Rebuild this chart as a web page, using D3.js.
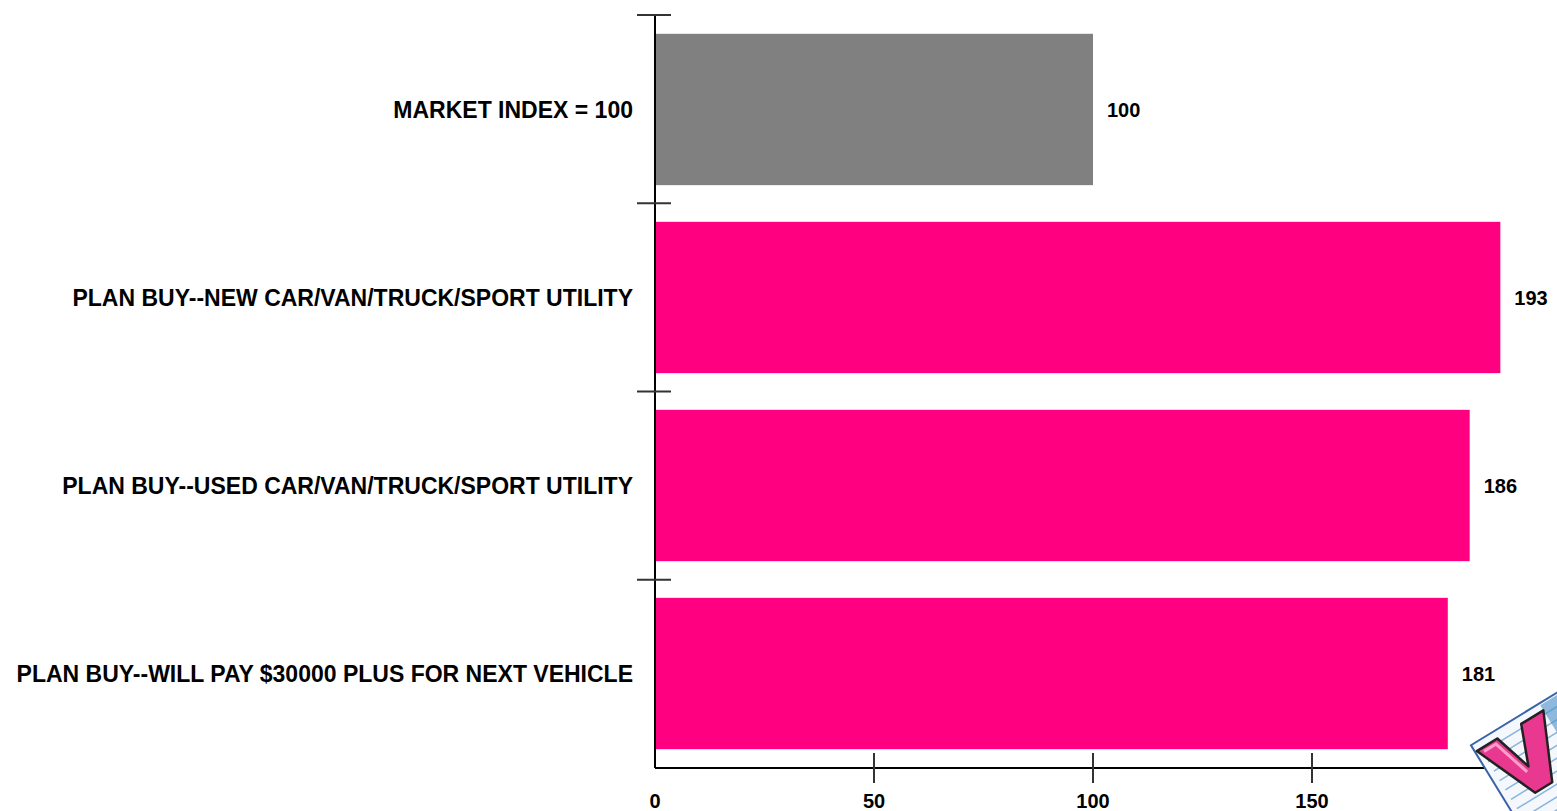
<!DOCTYPE html>
<html><head><meta charset="utf-8">
<script src="https://cdn.jsdelivr.net/npm/d3@7"></script>
<style>body{margin:0;background:#fff;overflow:hidden}svg{display:block}</style>
</head><body>
<svg id="c" width="1557" height="811"></svg>
<script>
const categories = ["MARKET INDEX = 100","PLAN BUY--NEW CAR/VAN/TRUCK/SPORT UTILITY","PLAN BUY--USED CAR/VAN/TRUCK/SPORT UTILITY","PLAN BUY--WILL PAY $30000 PLUS FOR NEXT VEHICLE"];
const values = [100,193,186,181];
const barColors = ["#808080","#FF0080","#FF0080","#FF0080"];
const xTicks = [0,50,100,150];

(function(){
const svg = d3.select("#c");
const mLeft = 655, mTop = 15, mBottom = 768;
const x = d3.scaleLinear().domain([0,100]).range([mLeft,1093]);
const y = d3.scaleBand().domain(categories).range([mTop,mBottom]).paddingInner(0.195).paddingOuter(0.1);
const font = "'Liberation Sans', Arial, sans-serif";

svg.selectAll("rect.bar").data(categories).enter().append("rect")
  .attr("x", mLeft+1).attr("y", d=>y(d))
  .attr("width", (d,i)=>x(values[i])-mLeft-1).attr("height", y.bandwidth())
  .attr("fill", (d,i)=>barColors[i]);

svg.selectAll("text.val").data(categories).enter().append("text")
  .attr("x",(d,i)=>x(values[i])+14).attr("y",d=>y(d)+y.bandwidth()/2)
  .attr("dy","0.36em").attr("font-family",font).attr("font-weight","bold")
  .attr("font-size","20px").attr("fill","#000").text((d,i)=>values[i]);

const step = (mBottom-mTop)/categories.length;
svg.append("line").attr("x1",mLeft).attr("x2",mLeft).attr("y1",mTop).attr("y2",mBottom)
  .attr("stroke","#000").attr("stroke-width",2);
d3.range(categories.length).forEach(i=>{
  svg.append("line").attr("x1",mLeft-18).attr("x2",mLeft+16)
    .attr("y1",mTop+i*step).attr("y2",mTop+i*step).attr("stroke","#333").attr("stroke-width",2);
});
svg.selectAll("text.cat").data(categories).enter().append("text")
  .attr("x",633).attr("y",d=>y(d)+y.bandwidth()/2).attr("dy","0.36em")
  .attr("text-anchor","end").attr("font-family",font).attr("font-weight","bold")
  .attr("font-size","23px").attr("fill","#000").text(d=>d);

svg.append("line").attr("x1",mLeft).attr("x2",1557).attr("y1",mBottom).attr("y2",mBottom)
  .attr("stroke","#000").attr("stroke-width",2);
xTicks.forEach(t=>{
  if(t>0) svg.append("line").attr("x1",x(t)).attr("x2",x(t)).attr("y1",mBottom-15).attr("y2",mBottom+15)
    .attr("stroke","#333").attr("stroke-width",2);
  svg.append("text").attr("x",x(t)).attr("y",808).attr("text-anchor","middle")
    .attr("font-family",font).attr("font-weight","bold").attr("font-size","20px").text(t);
});

// decorative logo (shapes only)
const g = svg.append("g").attr("transform","translate(1472,747) rotate(-31.5)");
g.append("rect").attr("x",0).attr("y",-2).attr("width",130).attr("height",110).attr("fill","#f4f8fc").attr("stroke","#3a64a8").attr("stroke-width",2);
for(let k=0;k<9;k++) g.append("line").attr("x1",6).attr("x2",128).attr("y1",10+k*11).attr("y2",10+k*11).attr("stroke","#8ab4dc").attr("stroke-width",1.5);
g.append("rect").attr("x",80).attr("y",0).attr("width",30).attr("height",100).attr("fill","#4a90c8").attr("opacity",0.6);
g.append("path").attr("d","M2,6 L26,6 L38,46 L54,6 L80,6 L50,72 L30,72 Z")
  .attr("fill","#e83890").attr("stroke","#222").attr("stroke-width",2.5).attr("stroke-linejoin","round");
g.append("path").attr("d","M8,10 L22,10 L34,50")
  .attr("fill","none").attr("stroke","#f8a0c8").attr("stroke-width",3);
})();
</script>
</body></html>
